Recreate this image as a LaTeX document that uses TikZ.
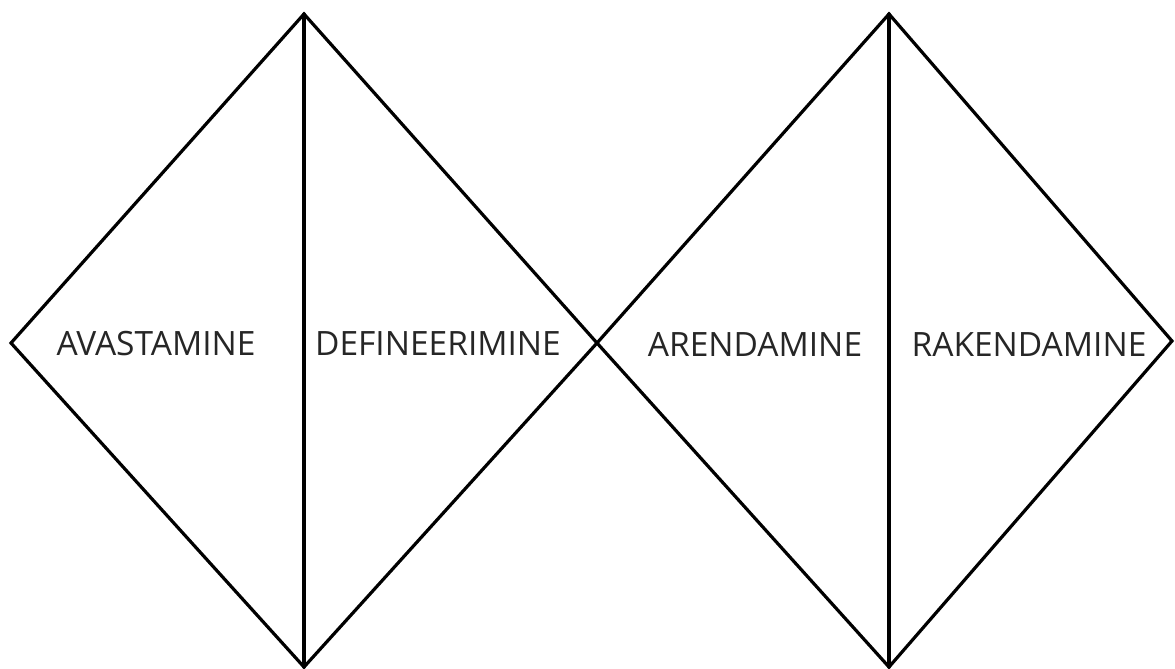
\documentclass[tikz,border=0pt]{standalone}
\usepackage{fontspec}
\setmainfont{Open Sans}
\begin{document}
\begin{tikzpicture}[x=1pt,y=-1pt,
  edge/.style={line width=3.2pt, line join=miter, line cap=round},
  lbl/.style={font=\fontsize{33.5}{38}\selectfont, text=black!85, inner sep=0pt, anchor=center}]
\useasboundingbox (0,0) rectangle (1175,669);
\coordinate (L) at (11,343);
\coordinate (T1) at (304,14);
\coordinate (B1) at (304,667);
\coordinate (C) at (597,343);
\coordinate (T2) at (889,14);
\coordinate (B2) at (889,667);
\coordinate (R) at (1172,341);
\draw[edge] (L) -- (T1) -- (C) -- (B1) -- cycle;
\draw[edge] (C) -- (T2) -- (R) -- (B2) -- cycle;
\draw[edge] (T1) -- (B1);
\draw[edge] (T2) -- (B2);
\node[lbl] (a) at (156,344) {AVASTAMINE};
\node[lbl] (b) at (438,344) {DEFINEERIMINE};
\node[lbl] (c) at (755,344) {ARENDAMINE};
\node[lbl] (d) at (1029,344) {RAKENDAMINE};
\end{tikzpicture}
\end{document}
